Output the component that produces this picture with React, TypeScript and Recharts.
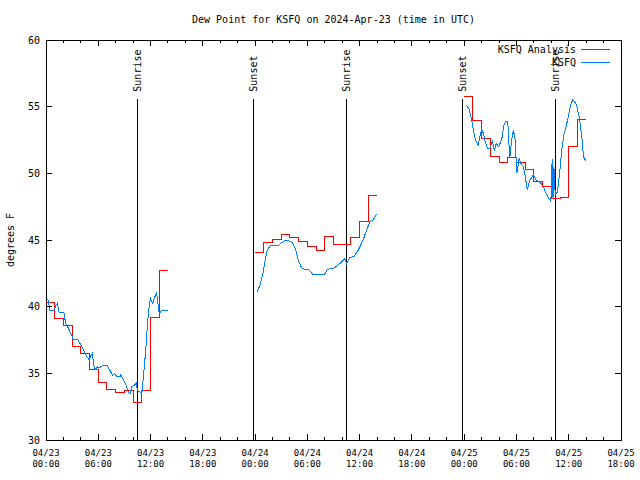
import { LineChart, Line, XAxis, YAxis, ReferenceLine, ReferenceArea } from "recharts";

// hours since 04/23 00:00 UTC
const analysisHours1 = [0, 1, 2, 3, 4, 5, 6, 7, 8, 9, 10, 11, 12, 13, 14];
const analysisDew1 = [40.3, 39.1, 38.6, 37.0, 36.5, 35.3, 34.3, 33.8, 33.6, 33.7, 32.8, 33.7, 39.2, 42.7, 42.7];
const analysisHours2 = [24, 25, 26, 27, 28, 29, 30, 31, 32, 33, 34, 35, 36, 37, 38];
const analysisDew2 = [44.1, 44.8, 45.05, 45.4, 45.2, 44.9, 44.55, 44.25, 45.3, 44.7, 44.7, 45.2, 46.4, 48.35, 48.35];
const analysisHours3 = [48, 49, 50, 51, 52, 53, 54, 55, 56, 57, 58, 59, 60, 61, 62];
const analysisDew3 = [55.8, 54.0, 52.6, 51.3, 50.8, 51.2, 50.8, 50.3, 49.4, 49.0, 48.1, 48.2, 52.0, 54.05, 54.05];

const obsHours1 = [0.2, 0.45, 0.9, 1.15, 1.3, 1.5, 2.05, 2.25, 2.55, 2.85, 3.15, 3.6, 3.9, 4.3, 4.75, 5.0, 5.1, 5.3, 5.55, 5.75, 5.9, 6.1, 6.4, 6.8, 7.0, 7.35, 7.65, 7.9, 8.1, 8.5, 8.6, 8.9, 9.2, 9.45, 9.65, 9.85, 10.15, 10.35, 10.5, 11.0, 11.15, 11.45, 11.65, 11.85, 12.0, 12.25, 12.5, 12.7, 12.85, 13.0, 13.3, 14.0];
const obsDew1 = [40.6, 39.75, 39.75, 40.1, 40.25, 39.6, 39.6, 38.75, 38.4, 38.0, 37.5, 37.55, 37.25, 36.75, 36.2, 36.0, 36.25, 36.5, 35.4, 35.3, 35.5, 35.4, 35.55, 35.6, 35.6, 35.2, 34.85, 35.0, 34.75, 34.75, 34.9, 34.5, 34.1, 33.6, 33.45, 34.0, 34.1, 34.25, 33.7, 33.5, 34.5, 36.75, 38.75, 40.1, 40.6, 40.25, 40.75, 41.0, 40.25, 39.5, 39.75, 39.75];
const obsHours2 = [24.25, 24.55, 24.9, 25.15, 25.4, 25.7, 26.7, 27.05, 27.55, 27.95, 28.3, 28.6, 28.95, 29.35, 29.7, 30.2, 30.6, 32.0, 32.3, 33.1, 33.75, 34.3, 34.5, 34.9, 35.35, 35.85, 36.4, 36.8, 37.2, 37.55, 37.95];
const obsDew2 = [41.1, 41.6, 42.5, 43.5, 44.25, 44.55, 44.6, 44.8, 45.0, 44.9, 44.8, 44.4, 43.5, 42.9, 42.8, 42.75, 42.45, 42.45, 42.8, 42.9, 43.25, 43.6, 43.2, 43.7, 43.75, 44.25, 45.0, 45.75, 46.4, 46.5, 46.95];
const obsHours3 = [48.3, 48.6, 48.85, 49.05, 49.3, 49.6, 49.8, 50.0, 50.2, 50.4, 50.65, 50.95, 51.25, 51.45, 51.7, 51.95, 52.3, 52.55, 52.75, 53.0, 53.15, 53.25, 53.45, 53.65, 53.85, 54.05, 54.3, 54.5, 54.8, 54.95, 55.25, 55.5, 55.65, 55.95, 56.25, 56.55, 56.8, 57.1, 57.4, 57.7, 57.95, 58.1, 58.2, 58.3, 58.45, 58.7, 58.95, 59.2, 59.45, 59.7, 59.95, 60.2, 60.45, 60.6, 60.9, 61.2, 61.5, 61.7, 61.95];
const obsDew3 = [55.1, 54.75, 54.0, 53.25, 52.5, 52.1, 52.75, 53.3, 53.0, 52.4, 51.9, 51.9, 52.4, 51.75, 52.25, 52.0, 52.5, 53.6, 53.9, 53.9, 52.1, 51.25, 52.5, 53.25, 52.5, 50.0, 51.1, 50.75, 50.5, 50.0, 48.75, 49.4, 49.6, 49.9, 49.5, 49.4, 49.25, 49.0, 48.5, 48.1, 47.9, 51.1, 48.1, 50.5, 48.4, 48.6, 50.0, 51.75, 52.9, 53.5, 54.25, 55.1, 55.5, 55.45, 55.1, 54.25, 52.75, 51.25, 50.95];

const sunHours = [10.48, 23.8, 34.47, 47.79, 58.46];
const sunNames = ["Sunrise", "Sunset", "Sunrise", "Sunset", "Sunrise"];
const sunLineTop = 55.6;

const majorTicks = [0, 6, 12, 18, 24, 30, 36, 42, 48, 54, 60, 66];
const majorDates = ["04/23", "04/23", "04/23", "04/23", "04/24", "04/24", "04/24", "04/24", "04/25", "04/25", "04/25", "04/25"];
const majorTimes = ["00:00", "06:00", "12:00", "18:00", "00:00", "06:00", "12:00", "18:00", "00:00", "06:00", "12:00", "18:00"];
const minorTicks = [2, 4, 8, 10, 14, 16, 20, 22, 26, 28, 32, 34, 38, 40, 44, 46, 50, 52, 56, 58, 62, 64];
const yTicks = [30, 35, 40, 45, 50, 55, 60];

const xTicks = [...majorTicks, ...minorTicks].sort((a, b) => a - b);

const rows = (hs: number[], vs: number[]) => hs.map((h, i) => ({ h, v: vs[i] }));

const MONO = '"DejaVu Sans Mono", "Liberation Mono", monospace';
const RED = "#ff0000";
const BLUE = "#0080ff";
const CRISP = "crispEdges";

const tickLen = (h: number) => (majorTicks.includes(h) ? 6 : 3);

const BottomTick = ({ x, y, payload }: any) => {
  const h = payload.value;
  const i = majorTicks.indexOf(h);
  return (
    <g>
      <line x1={x} x2={x} y1={y} y2={y - tickLen(h)} stroke="#000" shapeRendering={CRISP} />
      {i >= 0 && (
        <text x={x} y={y} textAnchor="middle" fontFamily={MONO} fontSize={9} fill="#000">
          <tspan x={x} dy={16}>{majorDates[i]}</tspan>
          <tspan x={x} dy={11}>{majorTimes[i]}</tspan>
        </text>
      )}
    </g>
  );
};

const TopTick = ({ x, y, payload }: any) => (
  <line x1={x} x2={x} y1={y} y2={y + tickLen(payload.value)} stroke="#000" shapeRendering={CRISP} />
);

const LeftTick = ({ x, y, payload }: any) => (
  <g>
    <line x1={x} x2={x + 6} y1={y} y2={y} stroke="#000" shapeRendering={CRISP} />
    <text x={x - 6} y={y + 3.5} textAnchor="end" fontFamily={MONO} fontSize={10} fill="#000">
      {payload.value}
    </text>
  </g>
);

const RightTick = ({ x, y }: any) => (
  <line x1={x} x2={x - 6} y1={y} y2={y} stroke="#000" shapeRendering={CRISP} />
);

const sunLabel = (name: string) => (props: any) => {
  const vb = props.viewBox;
  return (
    <text
      transform={`translate(${vb.x + 4},${vb.y - 7}) rotate(-90)`}
      fontFamily={MONO}
      fontSize={10}
      fill="#000"
    >
      {name}
    </text>
  );
};

const App = () => {
  return (
    <div style={{ position: "absolute", left: 0, top: 0, width: 640, height: 480, background: "#fff" }}>
      <LineChart width={640} height={480} margin={{ top: 0, right: 0, bottom: 0, left: 0 }}>
        <XAxis
          xAxisId="bottom"
          dataKey="h"
          type="number"
          domain={[0, 66]}
          ticks={xTicks}
          interval={0}
          height={40}
          axisLine={false}
          tickLine={false}
          tickSize={0}
          tickMargin={0}
          tick={(p: any) => <BottomTick {...p} />}
          allowDataOverflow
        />
        <XAxis
          xAxisId="top"
          orientation="top"
          dataKey="h"
          type="number"
          domain={[0, 66]}
          ticks={xTicks}
          interval={0}
          height={40}
          axisLine={false}
          tickLine={false}
          tickSize={0}
          tickMargin={0}
          tick={(p: any) => <TopTick {...p} />}
          allowDataOverflow
        />
        <YAxis
          yAxisId="left"
          type="number"
          domain={[30, 60]}
          ticks={yTicks}
          interval={0}
          width={46}
          axisLine={false}
          tickLine={false}
          tickSize={0}
          tickMargin={0}
          tick={(p: any) => <LeftTick {...p} />}
          allowDataOverflow
        />
        <YAxis
          yAxisId="right"
          orientation="right"
          type="number"
          domain={[30, 60]}
          ticks={yTicks}
          interval={0}
          width={19}
          axisLine={false}
          tickLine={false}
          tickSize={0}
          tickMargin={0}
          tick={(p: any) => <RightTick {...p} />}
          allowDataOverflow
        />
        {sunHours.map((t, i) => (
          <ReferenceLine
            key={`sun${i}`}
            xAxisId="bottom"
            yAxisId="left"
            segment={[{ x: t, y: 30 }, { x: t, y: sunLineTop }]}
            stroke="#000"
            strokeWidth={1}
            shapeRendering={CRISP}
            label={sunLabel(sunNames[i])}
          />
        ))}
        {[
          rows(analysisHours1, analysisDew1),
          rows(analysisHours2, analysisDew2),
          rows(analysisHours3, analysisDew3),
        ].map((d, i) => (
          <Line
            key={`a${i}`}
            xAxisId="bottom"
            yAxisId="left"
            data={d}
            dataKey="v"
            type="stepAfter"
            stroke={RED}
            strokeWidth={1}
            shapeRendering={CRISP}
            dot={false}
            isAnimationActive={false}
          />
        ))}
        {[
          rows(obsHours1, obsDew1),
          rows(obsHours2, obsDew2),
          rows(obsHours3, obsDew3),
        ].map((d, i) => (
          <Line
            key={`o${i}`}
            xAxisId="bottom"
            yAxisId="left"
            data={d}
            dataKey="v"
            type="linear"
            stroke={BLUE}
            strokeWidth={1}
            shapeRendering={CRISP}
            dot={false}
            isAnimationActive={false}
          />
        ))}
        <ReferenceArea
          xAxisId="top"
          yAxisId="right"
          x1={0}
          x2={66}
          y1={30}
          y2={60}
          fill="none"
          fillOpacity={0}
          stroke="#000"
          strokeWidth={1}
          shapeRendering={CRISP}
        />
      </LineChart>

      <div
        style={{
          position: "absolute",
          left: 46,
          top: 14,
          width: 575,
          textAlign: "center",
          fontFamily: MONO,
          fontSize: 10,
          lineHeight: "12px",
          whiteSpace: "nowrap",
        }}
      >
        Dew Point for KSFQ on 2024-Apr-23 (time in UTC)
      </div>

      <div
        style={{
          position: "absolute",
          left: 11,
          top: 240,
          transform: "translate(-50%, -50%) rotate(-90deg)",
          fontFamily: MONO,
          fontSize: 10,
          lineHeight: "12px",
          whiteSpace: "nowrap",
        }}
      >
        degrees F
      </div>

      {[
        { name: "KSFQ Analysis", color: RED, top: 44 },
        { name: "KSFQ", color: BLUE, top: 57 },
      ].map((item) => (
        <div key={item.name}>
          <div
            style={{
              position: "absolute",
              right: 640 - 576,
              top: item.top,
              fontFamily: MONO,
              fontSize: 10,
              lineHeight: "12px",
              whiteSpace: "nowrap",
            }}
          >
            {item.name}
          </div>
          <div
            style={{
              position: "absolute",
              left: 581,
              top: item.top + 5,
              width: 29,
              height: 1,
              background: item.color,
            }}
          />
        </div>
      ))}
    </div>
  );
};

export default App;
